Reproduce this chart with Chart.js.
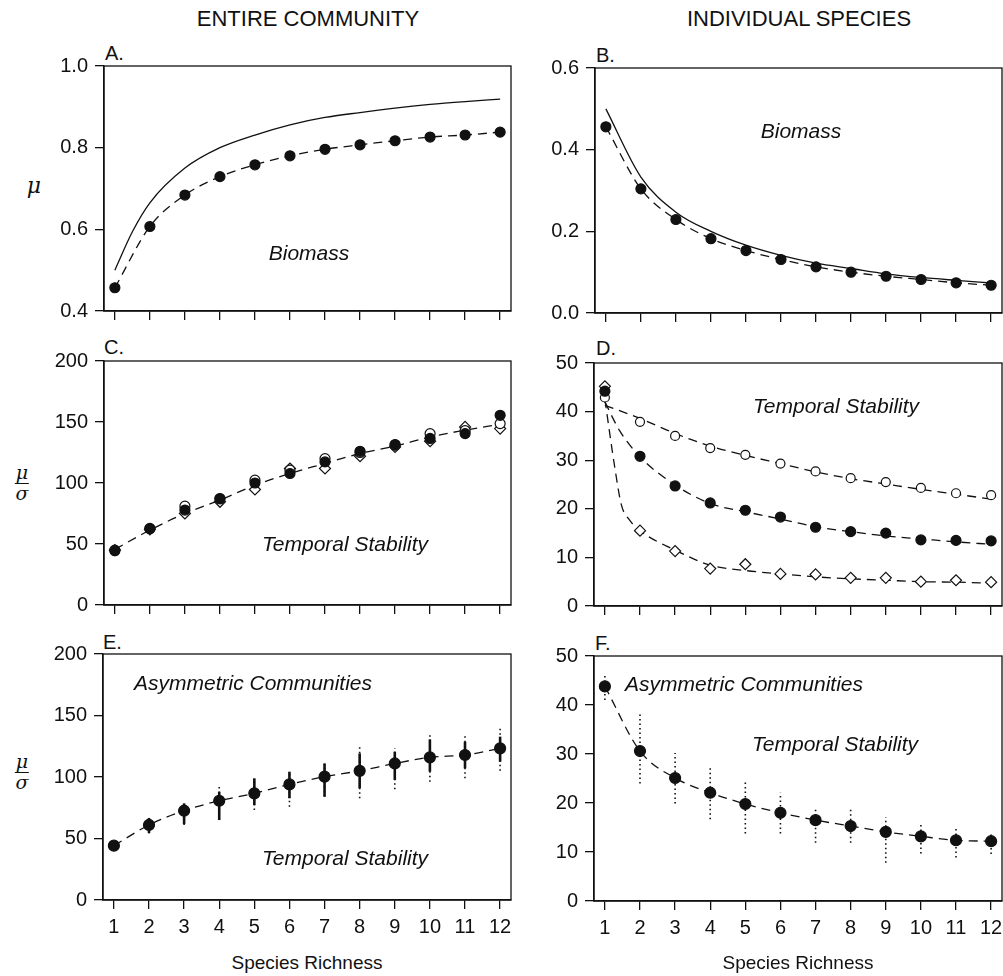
<!DOCTYPE html>
<html>
<head>
<meta charset="utf-8">
<script src="https://cdn.jsdelivr.net/npm/chart.js@4.4.1/dist/chart.umd.min.js"></script>
<style>
html, body { margin: 0; padding: 0; background: #fff; overflow: hidden; }
body { width: 1003px; height: 976px; position: relative; font-family: "Liberation Sans", Arial, sans-serif; color: #111; }
canvas { position: absolute; }
.t { position: absolute; white-space: nowrap; line-height: 1; transform: translate(-50%, -50%); }
.col { font-size: 22px; }
.let { font-size: 20px; transform: translateY(-50%); }
.lab { font-size: 21px; font-style: italic; }
.ax { font-size: 19px; }
.mu { font-family: "DejaVu Serif", serif; font-style: italic; font-size: 22px; }
.frac { display: flex; flex-direction: column; align-items: center; font-family: "DejaVu Serif", serif; font-style: italic; font-size: 19px; }
.frac span:first-child { border-bottom: 1.4px solid #111; padding: 0 1px 1px; }
</style>
</head>
<body>

<!-- titres de colonnes -->
<div class="t col" style="left:308px;top:19px">ENTIRE COMMUNITY</div>
<div class="t col" style="left:799px;top:19px">INDIVIDUAL SPECIES</div>

<!-- lettres des panneaux -->
<div class="t let" style="left:105px;top:53px">A.</div>
<div class="t let" style="left:596px;top:55px">B.</div>
<div class="t let" style="left:104px;top:347px">C.</div>
<div class="t let" style="left:596px;top:348px">D.</div>
<div class="t let" style="left:103px;top:642px">E.</div>
<div class="t let" style="left:595px;top:643px">F.</div>

<!-- titres des axes y -->
<div class="t mu" style="left:34px;top:186px">μ</div>
<div class="t frac" style="left:22px;top:483px"><span>μ</span><span>σ</span></div>
<div class="t frac" style="left:22px;top:772px"><span>μ</span><span>σ</span></div>

<canvas id="pA"></canvas>
<canvas id="pB"></canvas>
<canvas id="pC"></canvas>
<canvas id="pD"></canvas>
<canvas id="pE"></canvas>
<canvas id="pF"></canvas>

<!-- annotations -->
<div class="t lab" style="left:309px;top:252px">Biomass</div>
<div class="t lab" style="left:801px;top:130px">Biomass</div>
<div class="t lab" style="left:345px;top:543px">Temporal Stability</div>
<div class="t lab" style="left:836px;top:405px">Temporal Stability</div>
<div class="t lab" style="left:253px;top:682px">Asymmetric Communities</div>
<div class="t lab" style="left:345px;top:857px">Temporal Stability</div>
<div class="t lab" style="left:744px;top:683px">Asymmetric Communities</div>
<div class="t lab" style="left:835px;top:743px">Temporal Stability</div>

<!-- titres des axes x -->
<div class="t ax" style="left:307px;top:962px">Species Richness</div>
<div class="t ax" style="left:798px;top:962px">Species Richness</div>

<script>
// ---------- données ----------
const richness = [1, 2, 3, 4, 5, 6, 7, 8, 9, 10, 11, 12];

// A. biomasse, communauté entière
const aCurveX = [1, 1.5, 2, 3, 4, 5, 6, 7, 8, 9, 10, 11, 12];
const aCurve  = [0.50, 0.594, 0.665, 0.75, 0.80, 0.831, 0.856, 0.874, 0.886, 0.897, 0.906, 0.913, 0.919];
const aDots   = [0.457, 0.607, 0.684, 0.729, 0.758, 0.780, 0.796, 0.807, 0.817, 0.826, 0.831, 0.838];
const aTicks  = [0.4, 0.6, 0.8, 1.0];

// B. biomasse, espèces
const bCurve = [0.50, 0.333, 0.247, 0.200, 0.166, 0.141, 0.122, 0.109, 0.096, 0.087, 0.080, 0.0735];
const bDots  = [0.456, 0.304, 0.229, 0.182, 0.153, 0.131, 0.113, 0.100, 0.090, 0.082, 0.074, 0.068];
const bTicks = [0, 0.2, 0.4, 0.6];

// C. stabilité, communauté entière
const cFilled  = [44.5, 62.8, 77.8, 87.3, 100, 107.8, 117.3, 126, 131.5, 136.5, 140.5, 155.5];
const cOpen    = [45, 62.5, 81, 87, 102.3, 110.5, 120, 125, 131, 140.5, 143, 148.7];
const cDiamond = [45, 62, 75, 84.6, 94.7, 111.9, 111.9, 122, 129.6, 134.3, 146, 144.6];
const cFit     = [45.6, 61.4, 75, 86, 98.2, 107.8, 116, 124.2, 130.2, 137.8, 143.3, 148.2];
const cTicks   = [0, 50, 100, 150, 200];

// D. stabilité, espèces
const dOpen    = [42.9, 37.9, 35.0, 32.5, 31.1, 29.3, 27.7, 26.3, 25.5, 24.3, 23.2, 22.8];
const dFilled  = [44.2, 30.8, 24.7, 21.2, 19.7, 18.3, 16.2, 15.3, 15.0, 13.6, 13.5, 13.4];
const dDiamond = [45.2, 15.5, 11.3, 7.7, 8.6, 6.6, 6.5, 5.8, 5.8, 5.0, 5.3, 4.9];
const dFitTop  = [41.3, 38.6, 35.5, 32.9, 31, 29.3, 27.6, 26.2, 25.1, 24, 23, 22];
const dFitMidX = [1, 1.41, 2, 3, 4, 5, 6, 7, 8, 9, 10, 11, 12];
const dFitMid  = [42, 36.2, 30.7, 24.9, 21.1, 19.4, 17.9, 16.3, 15.3, 14.4, 13.8, 13.2, 12.7];
const dFitLowX = [1, 1.28, 1.47, 1.7, 2, 3, 4, 5, 6, 7, 8, 9, 10, 11, 12];
const dFitLow  = [42.5, 28.6, 20.8, 17.7, 15.5, 11.5, 8.4, 7.3, 6.6, 6.0, 5.6, 5.3, 5.0, 4.9, 4.7];
const dTicks   = [0, 10, 20, 30, 40, 50];

// E. communautés asymétriques, communauté entière
const eMean    = [44.2, 61, 72.6, 80.7, 86.7, 94, 100.3, 105, 111, 116, 117.9, 123.3];
const eSolidLo = [44.2, 54.5, 61.8, 65, 77.2, 82.7, 84, 90.8, 97.6, 104.3, 107, 112.4];
const eSolidHi = [44.2, 66.7, 78.6, 88, 98.9, 104.3, 111, 119.2, 120.6, 130.6, 128.7, 132.8];
const eDotLo   = [44.2, 54, 61, 65, 73.2, 75.9, 84, 82.7, 90, 96.2, 98.9, 105];
const eDotHi   = [44.2, 67.7, 79, 92, 99, 105, 111, 124.6, 123.3, 135.5, 135.5, 139.6];

// F. communautés asymétriques, espèces
const fMean  = [43.8, 30.6, 25.1, 22.1, 19.8, 18.0, 16.5, 15.3, 14.1, 13.2, 12.4, 12.2];
const fDotLo = [41, 24, 19.9, 16.7, 13.8, 13.8, 11.9, 11.9, 7.8, 9.7, 8.9, 9.6];
const fDotHi = [46.2, 38.1, 30.2, 27.2, 24.2, 22.1, 19, 19.1, 17.1, 16, 15.1, 14.1];

// ---------- helpers ----------
const INK = '#111';
const FONT = { family: 'Liberation Sans', size: 20 };

function pts(xs, ys) {
  return ys.map((y, i) => ({ x: xs[i], y: y }));
}

// courbe sans marqueurs (pleine ou tiretée)
function curve(xs, ys, dashed) {
  return {
    data: pts(xs, ys),
    showLine: true,
    borderColor: INK,
    borderWidth: 1.3,
    borderDash: dashed ? [9, 6] : [],
    pointRadius: 0,
    cubicInterpolationMode: 'monotone',
    fill: false
  };
}

// marqueurs seuls
function marks(ys, kind, r) {
  return {
    data: pts(richness, ys),
    showLine: false,
    pointStyle: kind === 'diamond' ? 'rectRot' : 'circle',
    pointRadius: r || 5,
    pointBackgroundColor: kind === 'filled' ? INK : '#fff',
    pointBorderColor: INK,
    pointBorderWidth: 1.2
  };
}

// barres d'erreur dessinées avec les échelles du graphique
const errorBars = {
  id: 'errorBars',
  beforeDatasetsDraw(chart, args, opts) {
    const bars = opts.bars || [];
    const ctx = chart.ctx, sx = chart.scales.x, sy = chart.scales.y;
    bars.forEach(b => {
      ctx.save();
      ctx.strokeStyle = INK;
      ctx.lineWidth = b.width;
      ctx.setLineDash(b.dash);
      b.lo.forEach((lo, i) => {
        const px = sx.getPixelForValue(richness[i]);
        ctx.beginPath();
        ctx.moveTo(px, sy.getPixelForValue(lo));
        ctx.lineTo(px, sy.getPixelForValue(b.hi[i]));
        ctx.stroke();
      });
      ctx.restore();
    });
  }
};

// cadre complet autour de la zone de tracé
const frame = {
  id: 'frame',
  afterDraw(chart) {
    const a = chart.chartArea, ctx = chart.ctx;
    ctx.save();
    ctx.strokeStyle = INK;
    ctx.lineWidth = 1.3;
    ctx.strokeRect(a.left, a.top, a.right - a.left, a.bottom - a.top);
    ctx.restore();
  }
};

function panel(id, box, yTicks, digits, datasets, xLabels, bars) {
  const cv = document.getElementById(id);
  cv.width = box[2] - box[0] + 90;
  cv.height = box[3] - box[1] + 65;
  cv.style.left = (box[0] - 70) + 'px';
  cv.style.top = (box[1] - 20) + 'px';

  const axisLine = { display: true, color: INK, width: 1.4 };
  const tickMarks = { drawOnChartArea: false, drawTicks: true, tickLength: 9, color: INK, lineWidth: 1.3 };

  new Chart(cv, {
    type: 'scatter',
    data: { datasets: datasets },
    options: {
      responsive: false,
      animation: false,
      devicePixelRatio: 1,
      layout: { padding: { top: 20, right: 20, left: 0, bottom: 0 } },
      plugins: {
        legend: { display: false },
        tooltip: { enabled: false },
        errorBars: { bars: bars || [] }
      },
      scales: {
        x: {
          type: 'linear',
          min: 0.69,
          max: 12.31,
          afterBuildTicks: ax => { ax.ticks = richness.map(v => ({ value: v })); },
          afterFit: ax => { ax.height = 45; },
          grid: tickMarks,
          border: axisLine,
          ticks: { display: xLabels, color: INK, font: FONT, padding: 6, maxRotation: 0 }
        },
        y: {
          min: yTicks[0],
          max: yTicks[yTicks.length - 1],
          afterBuildTicks: ax => { ax.ticks = yTicks.map(v => ({ value: v })); },
          afterFit: ax => { ax.width = 70; },
          grid: tickMarks,
          border: axisLine,
          ticks: { color: INK, font: FONT, padding: 7, callback: v => v.toFixed(digits) }
        }
      }
    },
    plugins: [errorBars, frame]
  });
}

// ---------- panneaux ----------
panel('pA', [104, 66, 511, 311], aTicks, 1, [
  marks(aDots, 'filled'),
  curve(richness, aDots, true),
  curve(aCurveX, aCurve, false)
], false);

panel('pB', [595, 68, 1002, 313], bTicks, 1, [
  marks(bDots, 'filled'),
  curve(richness, bDots, true),
  curve(richness, bCurve, false)
], false);

panel('pC', [104, 361, 511, 605], cTicks, 0, [
  marks(cFilled, 'filled'),
  marks(cOpen, 'open'),
  marks(cDiamond, 'diamond', 5.5),
  curve(richness, cFit, true)
], false);

panel('pD', [594, 363, 1002, 606], dTicks, 0, [
  marks(dFilled, 'filled'),
  marks(dOpen, 'open', 4.5),
  marks(dDiamond, 'diamond', 5.5),
  curve(richness, dFitTop, true),
  curve(dFitMidX, dFitMid, true),
  curve(dFitLowX, dFitLow, true)
], false);

panel('pE', [103, 654, 511, 900], cTicks, 0, [
  marks(eMean, 'filled', 5.5),
  curve(richness, eMean, true)
], true, [
  { lo: eDotLo, hi: eDotHi, width: 1.6, dash: [1.5, 3] },
  { lo: eSolidLo, hi: eSolidHi, width: 2.6, dash: [] }
]);

panel('pF', [594, 656, 1002, 901], dTicks, 0, [
  marks(fMean, 'filled', 5.5),
  curve(richness, fMean, true)
], true, [
  { lo: fDotLo, hi: fDotHi, width: 1.6, dash: [1.5, 3] }
]);
</script>
</body>
</html>
